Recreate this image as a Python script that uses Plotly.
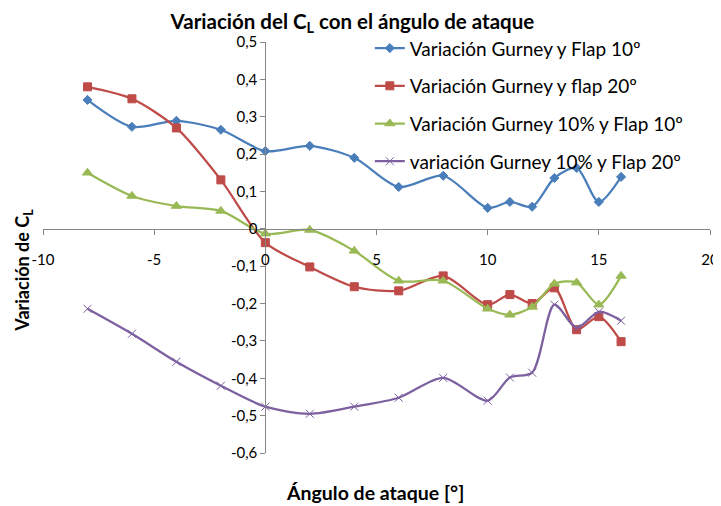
import plotly.graph_objects as go

# --- Data ---
angles = [-8, -6, -4, -2, 0, 2, 4, 6, 8, 10, 11, 12, 13, 14, 15, 16]

gurney_flap10 = [0.345, 0.273, 0.289, 0.265, 0.208, 0.222, 0.19, 0.112, 0.142,
                 0.056, 0.072, 0.059, 0.136, 0.163, 0.072, 0.139]
gurney_flap20 = [0.38, 0.348, 0.27, 0.131, -0.037, -0.102, -0.155, -0.166, -0.126,
                 -0.203, -0.176, -0.2, -0.158, -0.27, -0.235, -0.302]
gurney10_flap10 = [0.15, 0.088, 0.061, 0.048, -0.013, -0.003, -0.059, -0.139, -0.139,
                   -0.214, -0.23, -0.209, -0.147, -0.144, -0.203, -0.126]
gurney10_flap20 = [-0.214, -0.281, -0.356, -0.42, -0.476, -0.495, -0.476, -0.452, -0.399,
                   -0.46, -0.398, -0.385, -0.203, -0.265, -0.222, -0.246]

series_names = [
    "Variación Gurney y Flap 10º",
    "Variación Gurney y flap 20º",
    "Variación Gurney 10% y Flap 10º",
    "variación Gurney 10% y Flap 20º",
]

x_tickvals = [-10, -5, 0, 5, 10, 15, 20]
x_ticktext = ["-10", "-5", "0", "5", "10", "15", "20"]
y_tickvals = [0.5, 0.4, 0.3, 0.2, 0.1, 0, -0.1, -0.2, -0.3, -0.4, -0.5, -0.6]
y_ticktext = ["0,5", "0,4", "0,3", "0,2", "0,1", "0", "-0,1", "-0,2", "-0,3", "-0,4", "-0,5", "-0,6"]

X_RANGE = [-10, 20]
Y_RANGE = [-0.6, 0.5]

COLORS = ['#4A7EBB', '#BE4B48', '#98B954', '#7D60A0']
SYMBOLS = ['diamond', 'square', 'triangle-up', 'x-thin']
SIZES = [7, 8, 9, 8]
FONT = "Lato, 'Open Sans', Arial, sans-serif"

fig = go.Figure()
for i, ys in enumerate([gurney_flap10, gurney_flap20, gurney10_flap10, gurney10_flap20]):
    fig.add_trace(go.Scatter(
        x=angles, y=ys, name=series_names[i],
        mode='lines+markers',
        line=dict(color=COLORS[i], width=2.25, shape='spline', smoothing=0.8),
        marker=dict(symbol=SYMBOLS[i], size=SIZES[i], color=COLORS[i],
                    line=dict(color=COLORS[i], width=1)),
        legendgroup=f"g{i}",
    ))

# page body has an 8px margin, so the figure is a bit smaller than the window
fig.update_layout(
    width=713, height=498,
    margin=dict(l=35, r=11, t=34, b=53, autoexpand=False),
    plot_bgcolor='white', paper_bgcolor='white',
    font=dict(family=FONT, size=15, color='#000000'),
    title=dict(text="<b>Variación del C<sub>L</sub> con el ángulo de ataque</b>",
               x=0.483, xanchor='center', y=0.972, yanchor='middle',
               font=dict(size=20.5)),
    legend=dict(x=0.49, y=1.031, xanchor='left', yanchor='top',
                bgcolor='rgba(0,0,0,0)', font=dict(size=19),
                tracegroupgap=10, itemwidth=30),
    showlegend=True,
)

fig.update_xaxes(
    range=X_RANGE, tickvals=x_tickvals, ticktext=x_ticktext,
    showgrid=False, zeroline=False, automargin=False,
    showline=True, linecolor='#868686', linewidth=1,
    ticks='outside', ticklen=5, tickcolor='#868686',
    anchor='free', position=(0 - Y_RANGE[0]) / (Y_RANGE[1] - Y_RANGE[0]),
    ticklabelstandoff=12,
)
fig.update_yaxes(
    range=Y_RANGE, tickvals=y_tickvals, ticktext=y_ticktext,
    showgrid=False, zeroline=False, automargin=False,
    showline=True, linecolor='#868686', linewidth=1,
    ticks='outside', ticklen=5, tickcolor='#868686',
    anchor='free', position=(0 - X_RANGE[0]) / (X_RANGE[1] - X_RANGE[0]),
)

# axis titles (placed at the figure edges like the original)
fig.add_annotation(text="<b>Ángulo de ataque [°]</b>", xref='paper', yref='paper',
                   x=0.498, y=-0.097, showarrow=False, yanchor='middle',
                   font=dict(size=19.5))
fig.add_annotation(text="<b>Variación de C<sub>L</sub></b>", xref='paper', yref='paper',
                   x=-0.0285, y=0.446, showarrow=False, textangle=-90, xanchor='center',
                   font=dict(size=18))

fig.write_html("out.html")
